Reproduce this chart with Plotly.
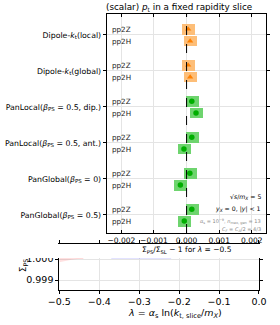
import plotly.graph_objects as go

W, H = 280, 325

# ---------------- data ----------------
groups = [
    "Dipole-<i>k</i><sub>t</sub>(local)",
    "Dipole-<i>k</i><sub>t</sub>(global)",
    "PanLocal(<i>β</i><sub>PS</sub> = 0.5, dip.)",
    "PanLocal(<i>β</i><sub>PS</sub> = 0.5, ant.)",
    "PanGlobal(<i>β</i><sub>PS</sub> = 0)",
    "PanGlobal(<i>β</i><sub>PS</sub> = 0.5)",
]
group_kind = ["dipole", "dipole", "pan", "pan", "pan", "pan"]
processes = ["pp2Z", "pp2H"]
pp2Z_vals = [0.00005, 0.00005, 0.00016, 0.00016, 0.00010, 0.00016]
pp2H_vals = [0.00011, 0.00011, 0.00029, -0.00008, -0.00019, -0.00007]
pp2Z_err = [0.0002, 0.0002, 0.0002, 0.0002, 0.0002, 0.0002]
pp2H_err = [0.0002, 0.0002, 0.0002, 0.0002, 0.0002, 0.0002]
top_xticks = [-0.002, -0.001, 0.0, 0.001, 0.002]
top_xticktext = ["−0.002", "−0.001", "0.000", "0.001", "0.002"]

# bottom panel (mostly hidden) curves
red_lam = [-0.5, -0.49, -0.48, -0.47, -0.46, -0.45, -0.44]
red_lo = [0.99985, 0.99990, 0.99994, 0.99997, 0.99999, 1.00001, 1.00002]
red_hi = [1.00010, 1.00009, 1.00008, 1.00007, 1.00006, 1.00005, 1.00005]
blue_lam = [-0.37, -0.34, -0.31, -0.28, -0.25, -0.22]
blue_lo = [1.00000, 0.99999, 0.99998, 0.99998, 0.99999, 1.00000]
blue_hi = [1.00006, 1.00006, 1.00005, 1.00005, 1.00006, 1.00006]
bot_xticks = [-0.5, -0.4, -0.3, -0.2, -0.1, 0.0]
bot_xticktext = ["−0.5", "−0.4", "−0.3", "−0.2", "−0.1", "0.0"]
bot_yticks = [0.999, 1.000]
bot_yticktext = ["0.999", "1.000"]

offsets = {"pp2Z": -0.16, "pp2H": 0.17}
styles = {
    "dipole": dict(box="rgb(253,190,120)", mk="rgb(255,128,0)", sym="triangle-up", size=5.5),
    "pan": dict(box="rgb(110,212,110)", mk="rgb(0,175,0)", sym="circle", size=5.5),
}

FONT = "DejaVu Sans"
fig = go.Figure()

# error boxes + markers
for kind in ["dipole", "pan"]:
    st = styles[kind]
    ys, vs, es = [], [], []
    for i, g in enumerate(groups):
        if group_kind[i] != kind:
            continue
        for p, vals, errs in [("pp2Z", pp2Z_vals, pp2Z_err), ("pp2H", pp2H_vals, pp2H_err)]:
            ys.append(i + offsets[p])
            vs.append(vals[i])
            es.append(errs[i])
    fig.add_trace(go.Bar(
        orientation="h", y=ys, x=[2 * e for e in es], base=[v - e for v, e in zip(vs, es)],
        width=0.3, marker=dict(color=st["box"], line=dict(width=0)),
        xaxis="x", yaxis="y", showlegend=False, hoverinfo="skip"))
    fig.add_trace(go.Scatter(
        x=vs, y=ys, mode="markers",
        marker=dict(symbol=st["sym"], size=st["size"], color=st["mk"], line=dict(width=0)),
        xaxis="x", yaxis="y", showlegend=False))

# bottom panel bands
fig.add_trace(go.Scatter(x=red_lam, y=red_lo, mode="lines", line=dict(width=0),
                         xaxis="x2", yaxis="y2", showlegend=False, hoverinfo="skip"))
fig.add_trace(go.Scatter(x=red_lam, y=red_hi, mode="lines", line=dict(width=0.8, color="rgba(255,0,0,0.25)"),
                         fill="tonexty", fillcolor="rgba(255,0,0,0.12)",
                         xaxis="x2", yaxis="y2", showlegend=False, hoverinfo="skip"))
fig.add_trace(go.Scatter(x=blue_lam, y=blue_lo, mode="lines", line=dict(width=0),
                         xaxis="x2", yaxis="y2", showlegend=False, hoverinfo="skip"))
fig.add_trace(go.Scatter(x=blue_lam, y=blue_hi, mode="lines", line=dict(width=0.8, color="rgba(0,0,255,0.2)"),
                         fill="tonexty", fillcolor="rgba(0,0,255,0.08)",
                         xaxis="x2", yaxis="y2", showlegend=False, hoverinfo="skip"))

def px_x(p):
    return p / W

def px_y(p):
    return 1 - p / H

grid = "#e4e4e4"
fig.update_layout(
    width=W, height=H, margin=dict(l=0, r=0, t=0, b=0),
    paper_bgcolor="white", plot_bgcolor="white",
    barmode="overlay", bargap=0,
    font=dict(family=FONT, size=8, color="black"),
    xaxis=dict(domain=[px_x(102), px_x(274)], anchor="y", range=[-0.00245, 0.00245],
               tickvals=top_xticks, ticktext=top_xticktext, tickfont=dict(size=7.5),
               showgrid=True, gridcolor=grid, gridwidth=0.8, zeroline=False,
               showline=True, linecolor="black", linewidth=1, mirror="ticks",
               ticks="inside", ticklen=3, tickcolor="black"),
    yaxis=dict(domain=[px_y(233), px_y(14)], anchor="x", range=[5.5, -0.58],
               tickvals=list(range(len(groups))), ticktext=groups, tickfont=dict(size=7.8),
               showgrid=True, gridcolor=grid, gridwidth=0.8, zeroline=False,
               showline=True, linecolor="black", linewidth=1, mirror="ticks",
               ticks="outside", ticklen=3, tickcolor="black"),
    xaxis2=dict(domain=[px_x(51), px_x(266)], anchor="y2", range=[-0.5, 0.0],
                tickvals=bot_xticks, ticktext=bot_xticktext, tickfont=dict(size=9.5),
                showgrid=True, gridcolor=grid, gridwidth=0.8, zeroline=False,
                showline=True, linecolor="black", linewidth=1, mirror="ticks",
                ticks="outside", ticklen=3, tickcolor="black"),
    yaxis2=dict(domain=[px_y(290), px_y(244)], anchor="x2", range=[0.998524, 1.000714],
                tickvals=bot_yticks, ticktext=bot_yticktext, tickfont=dict(size=9.5),
                showgrid=True, gridcolor=grid, gridwidth=0.8, zeroline=False,
                showline=True, linecolor="black", linewidth=1, mirror="ticks",
                ticks="outside", ticklen=3, tickcolor="black"),
)

# dashed zero line
fig.add_shape(type="line", xref="x", yref="y domain", x0=0, x1=0, y0=0, y1=1,
              line=dict(color="black", width=1, dash="dash"), layer="above")

# white cover hiding the top of the bottom panel
fig.add_shape(type="rect", xref="paper", yref="paper", x0=0, x1=1,
              y0=px_y(258), y1=px_y(244), fillcolor="white", line=dict(width=0), layer="above")

ann = []
# process labels inside top panel
for i in range(len(groups)):
    for p in processes:
        ann.append(dict(x=px_x(106), xref="paper", y=i + offsets[p], yref="y", text=p,
                        showarrow=False, xanchor="left", yanchor="middle",
                        font=dict(size=7.2, color="#222")))
ann += [
    dict(x=px_x(180), y=px_y(8), text="(scalar) <i>p</i><sub>t</sub> in a fixed rapidity slice",
         font=dict(size=8.8)),
    dict(x=px_x(188), y=px_y(250), text="Σ<sub>PS</sub>/Σ<sub>SL</sub> − 1 for <i>λ</i> = −0.5",
         font=dict(size=7.5)),
    dict(x=px_x(176), y=px_y(313), text="<i>λ</i> = <i>α</i><sub>s</sub> ln(<i>k</i><sub>t, slice</sub>/<i>m<sub>X</sub></i>)",
         font=dict(size=9.5)),
    dict(x=px_x(12), y=px_y(266), text="Σ<sub>PS</sub>", textangle=-90, font=dict(size=9)),
    dict(x=px_x(270), y=px_y(197), text="√<i>s</i>/<i>m<sub>X</sub></i> = 5", xanchor="right",
         font=dict(size=6.2)),
    dict(x=px_x(270), y=px_y(209), text="<i>y<sub>X</sub></i> = 0, |<i>y</i>| &lt; 1", xanchor="right",
         font=dict(size=6.2)),
    dict(x=px_x(270), y=px_y(222), text="<i>α</i><sub>s</sub> = 10<sup>−9</sup>, <i>n</i><sub>max, gen</sub> = 13",
         xanchor="right", font=dict(size=5, color="#888")),
    dict(x=px_x(270), y=px_y(229), text="<i>C<sub>F</sub></i> = <i>C<sub>A</sub></i>/2 = 4/3", xanchor="right",
         font=dict(size=5, color="#888")),
]
for a in ann:
    a.setdefault("xref", "paper")
    a.setdefault("yref", "paper")
    a.setdefault("showarrow", False)
    a.setdefault("xanchor", "center")
    a.setdefault("yanchor", "middle")
fig.update_layout(annotations=ann)

fig.write_html("out.html", config={"displayModeBar": False},
               post_script="document.body.style.margin='0';document.body.style.overflow='hidden';")
